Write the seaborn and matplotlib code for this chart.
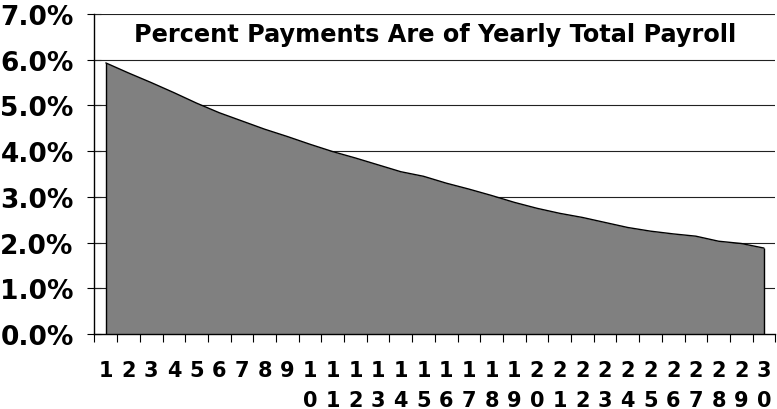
import matplotlib
matplotlib.use("Agg")
import matplotlib.pyplot as plt
import matplotlib.ticker as mticker
import numpy as np
import seaborn as sns

# Payment year and payments as a percent of yearly total payroll
years = list(range(1, 31))
pct_of_payroll = [
    5.93, 5.71, 5.50, 5.28, 5.05, 4.84, 4.66, 4.48, 4.32, 4.15,
    3.99, 3.85, 3.70, 3.55, 3.45, 3.30, 3.17, 3.03, 2.88, 2.75,
    2.64, 2.55, 2.44, 2.33, 2.25, 2.19, 2.14, 2.03, 1.98, 1.88,
]
title = "Percent Payments Are of Yearly Total Payroll"
y_ticks = [0, 1, 2, 3, 4, 5, 6, 7]
# digits stacked vertically, one per line
x_labels = ["\n".join(str(y)) for y in years]

sns.set_theme(style="white")
plt.rcParams["font.family"] = ["DejaVu Sans"]
plt.rcParams["font.weight"] = "bold"
plt.rcParams["text.color"] = "black"
plt.rcParams["xtick.color"] = "black"
plt.rcParams["ytick.color"] = "black"
plt.rcParams["xtick.labelcolor"] = "black"
plt.rcParams["ytick.labelcolor"] = "black"

fig = plt.figure(figsize=(7.77, 4.10), dpi=100)
ax = fig.add_axes([0.1216, 0.1829, 0.9978 - 0.1216, 0.9634 - 0.1829])

ax.fill_between(years, pct_of_payroll, 0, color="#808080", linewidth=0, zorder=2)
sns.lineplot(x=years, y=pct_of_payroll, ax=ax, color="black", linewidth=1.0, zorder=3)
# vertical edges at the ends of the area
ax.vlines([years[0], years[-1]], 0, [pct_of_payroll[0], pct_of_payroll[-1]],
          color="black", linewidth=1.0, zorder=3)

ax.set_xlim(years[0] - 0.5, years[-1] + 0.5)
ax.set_ylim(0, 7)

# horizontal gridlines
for v in y_ticks[1:]:
    ax.axhline(v, color="#222222", linewidth=0.8, zorder=1)

ax.set_yticks(y_ticks)
ax.yaxis.set_major_formatter(mticker.FuncFormatter(lambda v, p: f"{v:.1f}%"))
ax.tick_params(axis="y", which="major", direction="inout", length=10, width=0.8,
               color="black", labelcolor="black", pad=10, labelsize=19, left=True)

ax.set_xticks(years)
ax.set_xticklabels(x_labels)
ax.set_xticks(np.arange(years[0] - 0.5, years[-1] + 1.0, 1.0), minor=True)
ax.tick_params(axis="x", which="major", length=0, pad=19, labelsize=15,
               labelcolor="black")
ax.tick_params(axis="x", which="minor", direction="out", length=6, width=0.8,
               color="black", bottom=True)
for lbl in ax.get_xticklabels():
    lbl.set_linespacing(1.6)
    lbl.set_fontweight("bold")
    lbl.set_color("black")
for lbl in ax.get_yticklabels():
    lbl.set_fontweight("bold")
    lbl.set_color("black")

for side in ["top", "right"]:
    ax.spines[side].set_visible(False)
for side in ["left", "bottom"]:
    ax.spines[side].set_visible(True)
    ax.spines[side].set_color("black")
    ax.spines[side].set_linewidth(1.0)
    ax.spines[side].set_zorder(4)

ax.grid(False)
ax.set_xlabel("")
ax.set_ylabel("")

ax.text(0.5, 0.9166, title, transform=ax.transAxes, ha="center", va="baseline",
        fontsize=17.3, fontweight="bold", color="black", zorder=5)

fig.savefig("out.png", dpi=100)
